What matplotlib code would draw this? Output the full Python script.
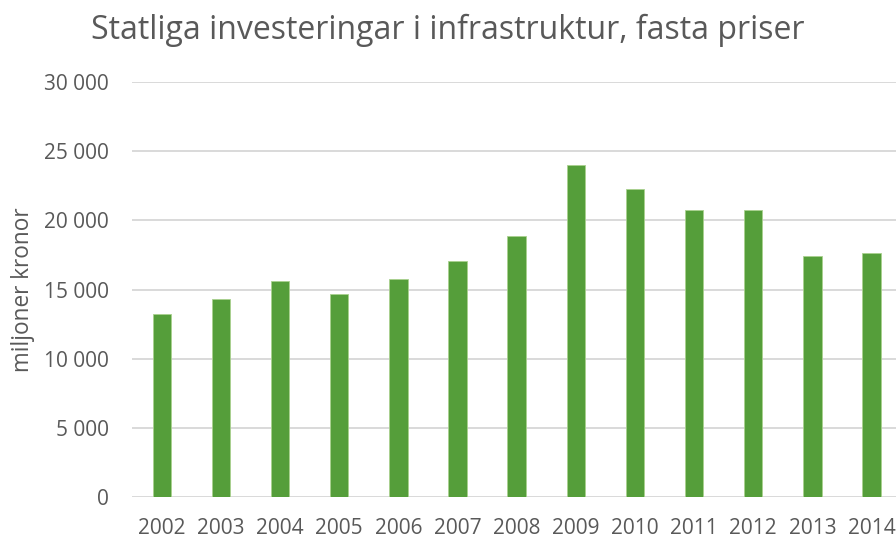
import matplotlib
matplotlib.use("Agg")
import matplotlib.pyplot as plt
from matplotlib.ticker import FuncFormatter

years = ["2002", "2003", "2004", "2005", "2006", "2007", "2008",
         "2009", "2010", "2011", "2012", "2013", "2014"]
values = [13240, 14300, 15580, 14700, 15750, 17080, 18900,
          24020, 22300, 20770, 20770, 17440, 17630]
yticks = [0, 5000, 10000, 15000, 20000, 25000, 30000]

plt.rcParams['font.family'] = ['Open Sans', 'DejaVu Sans']
txt = '#595959'

fig = plt.figure(figsize=(8.96, 5.38), dpi=100)
W, H = 896, 538
left, right = 132.2, 901.1
bottom, top = 497, 82
ax = fig.add_axes([left / W, (H - bottom) / H, (right - left) / W, (bottom - top) / H])

x = range(len(years))
ax.bar(x, values, width=0.31, color='#559E3A', edgecolor='#A9D18E', linewidth=0.6, zorder=3)
ax.set_xlim(-0.5, len(years) - 0.5)
ax.set_ylim(0, 30000)
ax.set_yticks(yticks)
ax.yaxis.set_major_formatter(FuncFormatter(lambda v, p: f"{int(v):,}".replace(",", " ")))
ax.set_xticks(list(x))
ax.set_xticklabels(years)
ax.grid(axis='y', color='#D9D9D9', linewidth=1.4, zorder=0)
for s in ax.spines.values():
    s.set_visible(False)
ax.tick_params(axis='both', length=0, labelsize=15, colors=txt)
ax.tick_params(axis='x', pad=15)
ax.tick_params(axis='y', pad=17)
ax.set_ylabel("miljoner kronor", fontsize=16.3, color=txt, labelpad=6)
fig.text(448 / W, 1 - 30 / H, "Statliga investeringar i infrastruktur, fasta priser",
         ha='center', va='center', fontsize=23, color=txt)

fig.savefig("out.png", dpi=100)
